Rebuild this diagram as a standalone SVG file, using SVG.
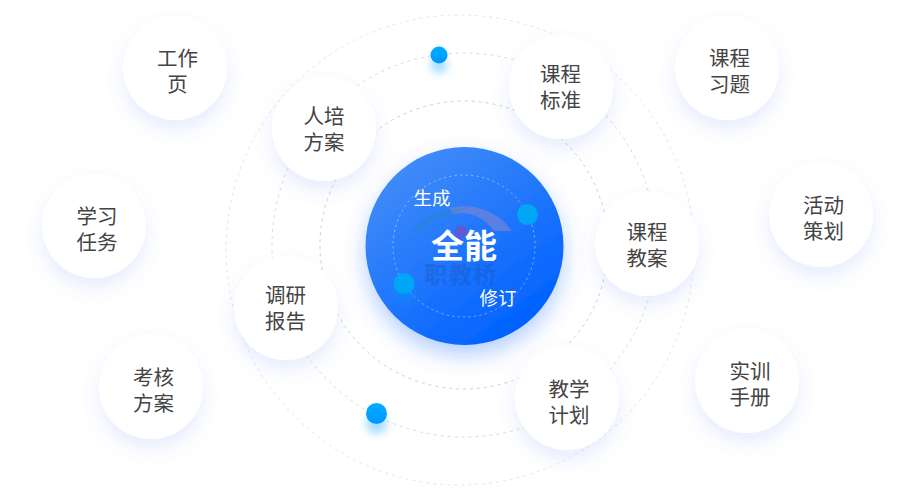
<svg xmlns="http://www.w3.org/2000/svg" width="900" height="496" viewBox="0 0 900 496">
<defs>
<linearGradient id="core" x1="0.2" y1="0.1" x2="0.8" y2="0.9"><stop offset="0" stop-color="#408af8"/><stop offset="1" stop-color="#0062ff"/></linearGradient>
<linearGradient id="dot" x1="0" y1="0" x2="0" y2="1"><stop offset="0" stop-color="#00aeff"/><stop offset="1" stop-color="#0096ff"/></linearGradient>
<filter id="ns" x="-40%" y="-40%" width="180%" height="180%"><feDropShadow dx="0" dy="9" stdDeviation="9" flood-color="#3f6ff0" flood-opacity="0.13"/></filter>
<filter id="cs" x="-30%" y="-30%" width="160%" height="160%"><feDropShadow dx="0" dy="10" stdDeviation="11" flood-color="#0a5cff" flood-opacity="0.3"/></filter>
<filter id="ds" x="-150%" y="-150%" width="400%" height="400%"><feDropShadow dx="0" dy="10" stdDeviation="4" flood-color="#0a9bff" flood-opacity="0.35"/></filter>
</defs>
<style>
text{font-family:"Liberation Sans","Noto Sans CJK SC",sans-serif}
.t{font-size:20.500px;fill:#444;text-anchor:middle}
.n{fill:#fff;filter:url(#ns)}
.r{fill:none;stroke-dasharray:3 4;stroke-width:1}
.w{font-size:18.500px;fill:#fff;text-anchor:middle}
.d{fill:url(#dot)}
</style>
<rect width="900" height="496" fill="#fff"/>
<g id="connectors">
<circle class="r" cx="464" cy="245" r="144" stroke="#cfcfcf"/>
<circle class="r" cx="464" cy="245" r="192" stroke="#dadada"/>
<ellipse class="r" cx="460" cy="250" rx="234" ry="235" stroke="#e6e6e6"/>
</g>
<g id="core-node">
<circle cx="464.500" cy="246" r="99" fill="url(#core)" filter="url(#cs)"/>
<circle cx="464" cy="246" r="71" fill="none" stroke="#fff" stroke-opacity="0.4" stroke-dasharray="2.500 3"/>
<g id="watermark">
<path d="M450 208A58 58 0 0 1 512 231L494 231A40 40 0 0 0 452 214Z" fill="#8a86cc" fill-opacity="0.55"/>
<path d="M413 231Q428 210 466 208L452 214Q430 218 420 231Z" fill="#1f8f9f" fill-opacity="0.3"/>
<circle cx="461" cy="232" r="6.500" fill="#7a4fc0" fill-opacity="0.7"/>
<text x="461" y="283" font-size="23" font-weight="700" text-anchor="middle" fill="#1a4fb0" fill-opacity="0.32" letter-spacing="1.500">职教桥</text>
</g>
<text x="464" y="258" font-size="33" font-weight="700" text-anchor="middle" fill="#fff">全能</text>
<text class="w" x="432" y="205">生成</text>
<text class="w" x="498" y="305">修订</text>
</g>
<g id="orbit-dots">
<circle cx="527.500" cy="214.500" r="10.500" fill="#02a6f6"/>
<circle cx="404" cy="283.500" r="10.500" fill="#02a6f6" filter="url(#ds)"/>
<circle class="d" cx="439" cy="55" r="8.500" filter="url(#ds)"/>
<circle class="d" cx="376.500" cy="413.500" r="10.500" filter="url(#ds)"/>
</g>
<g id="n1"><circle class="n" cx="175" cy="68" r="52"/><text class="t" x="177.500" y="66">工作<tspan x="177.500" dy="25.700">页</tspan></text></g>
<g id="n2"><circle class="n" cx="324" cy="129" r="52"/><text class="t" x="324" y="124">人培<tspan x="324" dy="25.700">方案</tspan></text></g>
<g id="n3"><circle class="n" cx="561" cy="87" r="52"/><text class="t" x="560.500" y="82">课程<tspan x="560.500" dy="25.700">标准</tspan></text></g>
<g id="n4"><circle class="n" cx="727" cy="68" r="52"/><text class="t" x="729.500" y="66">课程<tspan x="729.500" dy="25.700">习题</tspan></text></g>
<g id="n5"><circle class="n" cx="94" cy="226" r="52"/><text class="t" x="97" y="224">学习<tspan x="97" dy="25.700">任务</tspan></text></g>
<g id="n6"><circle class="n" cx="821" cy="215" r="52"/><text class="t" x="823.500" y="213">活动<tspan x="823.500" dy="25.700">策划</tspan></text></g>
<g id="n7"><circle class="n" cx="647" cy="244" r="52"/><text class="t" x="647" y="240">课程<tspan x="647" dy="25.700">教案</tspan></text></g>
<g id="n8"><circle class="n" cx="286" cy="308" r="52"/><text class="t" x="285.500" y="303">调研<tspan x="285.500" dy="25.700">报告</tspan></text></g>
<g id="n9"><circle class="n" cx="151" cy="387" r="52"/><text class="t" x="153.500" y="385">考核<tspan x="153.500" dy="25.700">方案</tspan></text></g>
<g id="n10"><circle class="n" cx="747" cy="381" r="52"/><text class="t" x="750" y="379">实训<tspan x="750" dy="25.700">手册</tspan></text></g>
<g id="n11"><circle class="n" cx="567" cy="398" r="52"/><text class="t" x="569" y="397">教学<tspan x="569" dy="25.700">计划</tspan></text></g>
</svg>
